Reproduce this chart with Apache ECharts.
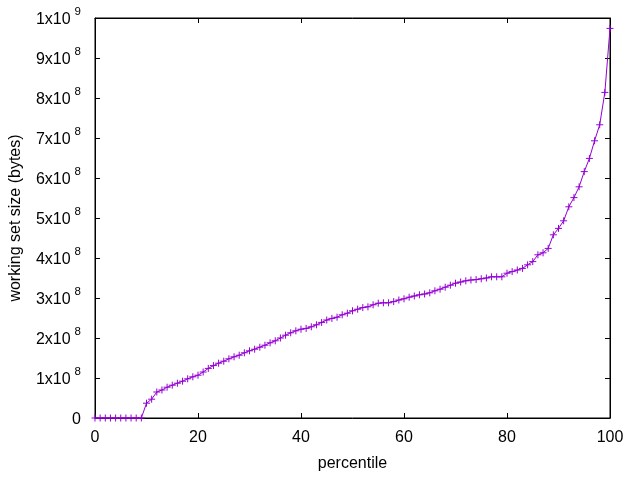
<!DOCTYPE html>
<html>
<head>
<meta charset="utf-8">
<script src="https://cdn.jsdelivr.net/npm/echarts@6/dist/echarts.min.js"></script>
<style>
html,body{margin:0;padding:0;background:#fff;}
#chart{width:640px;height:480px;}
</style>
</head>
<body>
<div id="chart"></div>
<script>
// percentile (x) values
const percentiles = [
  0,1,2,3,4,5,6,7,8,9,
  10,11,12,13,14,15,16,17,18,19,
  20,21,22,23,24,25,26,27,28,29,
  30,31,32,33,34,35,36,37,38,39,
  40,41,42,43,44,45,46,47,48,49,
  50,51,52,53,54,55,56,57,58,59,
  60,61,62,63,64,65,66,67,68,69,
  70,71,72,73,74,75,76,77,78,79,
  80,81,82,83,84,85,86,87,88,89,
  90,91,92,93,94,95,96,97,98,99,
  100
];
// working set size, in units of 1e8 bytes
const workingSetE8 = [
  0,0,0,0,0,0,0,0,0,0,
  0.37,0.47,0.65,0.70,0.77,0.82,0.87,0.92,0.98,1.03,
  1.07,1.15,1.24,1.31,1.37,1.42,1.48,1.53,1.57,1.63,
  1.68,1.72,1.77,1.82,1.88,1.93,2.00,2.07,2.13,2.18,
  2.22,2.24,2.28,2.33,2.39,2.45,2.49,2.52,2.58,2.62,
  2.68,2.72,2.76,2.78,2.83,2.87,2.88,2.88,2.91,2.95,
  2.98,3.02,3.05,3.08,3.10,3.13,3.18,3.22,3.27,3.32,
  3.37,3.40,3.43,3.45,3.46,3.48,3.50,3.53,3.53,3.53,
  3.62,3.66,3.70,3.74,3.83,3.91,4.08,4.13,4.24,4.58,
  4.74,4.93,5.28,5.51,5.78,6.16,6.49,6.93,7.33,8.14,
  9.74
];
const xTickLabels = ['0','20','40','60','80','100'];
const yTickMantissa = ['0','1','2','3','4','5','6','7','8','9','1'];
const yTickExponent = ['','8','8','8','8','8','8','8','8','8','9'];

const FONT = 'Liberation Sans';
const PURPLE = '#9400d3';
const data = percentiles.map((p, i) => [p, workingSetE8[i] * 1e8]);

const chart = echarts.init(document.getElementById('chart'), null, {renderer: 'canvas'});
function tick() { return {show: true, inside: true, length: 5, lineStyle: {color: '#000', width: 1}}; }
function line() { return {show: true, onZero: false, lineStyle: {color: '#000', width: 1}}; }
chart.setOption({
  animation: false,
  backgroundColor: '#fff',
  grid: {left: 95, right: 30, top: 18, bottom: 62, show: true, borderColor: '#000', borderWidth: 1, containLabel: false},
  xAxis: [{
    type: 'value', min: 0, max: 100, interval: 20,
    position: 'bottom',
    name: 'percentile', nameLocation: 'middle', nameGap: 38,
    nameTextStyle: {fontFamily: FONT, fontSize: 16, color: '#000'},
    axisLine: line(),
    axisTick: tick(),
    splitLine: {show: false},
    axisLabel: {
      fontFamily: FONT, fontSize: 16, color: '#000', margin: 12,
      formatter: v => xTickLabels[Math.round(v / 20)]
    }
  }, {
    type: 'value', min: 0, max: 100, interval: 20, position: 'top',
    axisLine: line(),
    axisTick: tick(), axisLabel: {show: false}, splitLine: {show: false}
  }],
  yAxis: [{
    type: 'value', min: 0, max: 1e9, interval: 1e8,
    position: 'left',
    name: 'working set size (bytes)', nameLocation: 'middle', nameGap: 71,
    nameTextStyle: {fontFamily: FONT, fontSize: 16, color: '#000'},
    axisLine: line(),
    axisTick: tick(),
    splitLine: {show: false},
    axisLabel: {
      margin: 14,
      formatter: v => {
        const i = Math.round(v / 1e8);
        if (i === 0) return '{m|0}';
        return '{m|' + yTickMantissa[i] + 'x10}{s|' + yTickExponent[i] + '}';
      },
      rich: {
        m: {fontFamily: FONT, fontSize: 16, color: '#000', padding: [3, 0, 0, 0]},
        s: {fontFamily: FONT, fontSize: 11.5, color: '#000', padding: [0, 0, 12, 4]}
      }
    }
  }, {
    type: 'value', min: 0, max: 1e9, interval: 1e8, position: 'right',
    axisLine: line(),
    axisTick: tick(), axisLabel: {show: false}, splitLine: {show: false}
  }],
  series: [{
    type: 'line',
    xAxisIndex: 0, yAxisIndex: 0,
    data: data,
    symbol: 'path://M0,5L10,5M5,0L5,10',
    symbolSize: 7,
    showAllSymbol: true,
    clip: false,
    lineStyle: {color: PURPLE, width: 1},
    itemStyle: {color: PURPLE, borderColor: PURPLE, borderWidth: 1},
    emphasis: {disabled: true}
  }]
});
</script>
</body>
</html>
